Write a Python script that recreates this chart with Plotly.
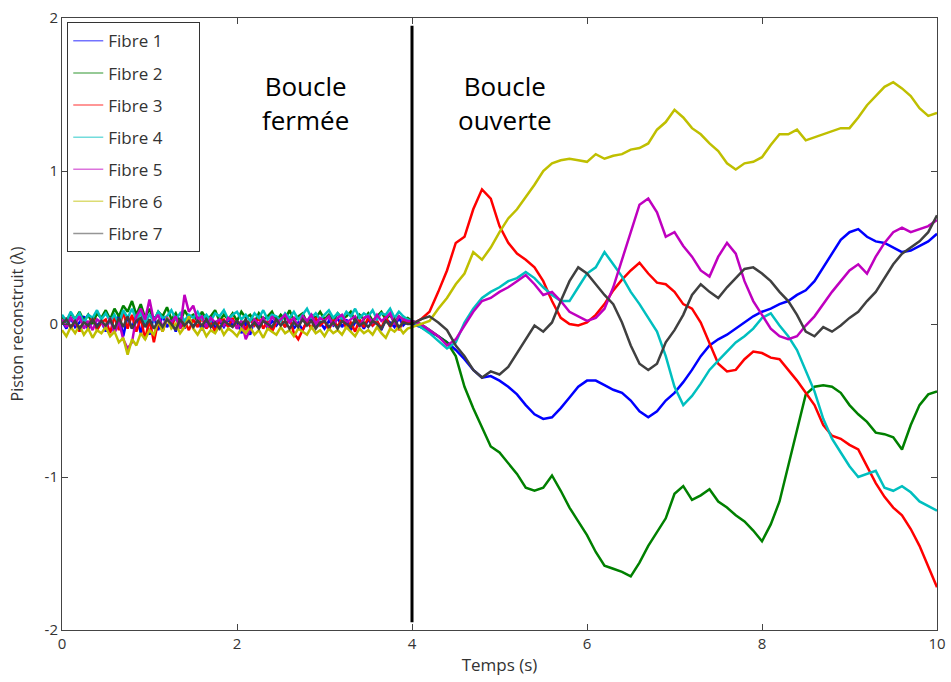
import numpy as np
import plotly.graph_objects as go

# ---------------- data ----------------
# closed loop samples: t = 0.00 ... 3.95 (step 0.05)
t_closed = np.round(np.arange(0, 80) * 0.05, 2)
# open loop samples: t = 4.0 ... 10.0 (step 0.1)
t_open = np.round(4.0 + np.arange(0, 61) * 0.1, 2)

fibre1_closed = [0.02, -0.03, 0.04, -0.02, 0.01, 0.05, -0.04, 0.03, -0.01, 0.02,
                 -0.05, 0.04, -0.06, 0.06, -0.08, 0.05, -0.03, 0.07, -0.06, 0.04,
                 -0.07, 0.05, -0.04, 0.06, -0.02, 0.03, -0.05, 0.04, -0.03, 0.05,
                 -0.02, 0.03, -0.04, 0.02, 0.04, -0.03, 0.02, -0.02, 0.03, -0.01,
                 0.02, -0.06, 0.01, -0.07, 0.03, -0.02, 0.04, -0.03, 0.02, -0.01,
                 0.03, -0.02, 0.04, -0.03, 0.01, -0.04, 0.02, 0.03, -0.02, 0.01,
                 -0.03, 0.02, -0.01, 0.04, -0.02, 0.03, -0.04, 0.01, 0.02, -0.03,
                 0.03, -0.01, 0.02, -0.04, 0.03, 0.01, -0.02, 0.04, -0.01, 0.02]
fibre2_closed = [0.05, 0.01, 0.07, 0.03, 0.08, 0.02, 0.06, 0.0, 0.07, 0.04,
                 0.09, 0.03, 0.1, 0.05, 0.12, 0.08, 0.15, 0.06, 0.13, 0.04,
                 0.1, 0.02, 0.08, 0.05, 0.11, 0.03, 0.07, 0.01, 0.09, 0.04,
                 0.06, 0.02, 0.08, 0.03, 0.05, 0.09, 0.02, 0.06, 0.03, 0.07,
                 0.02, 0.08, 0.04, 0.06, 0.01, 0.07, 0.03, 0.05, 0.08, 0.02,
                 0.06, 0.03, 0.09, 0.02, 0.05, 0.07, 0.01, 0.06, 0.04, 0.08,
                 0.03, 0.06, 0.02, 0.07, 0.04, 0.05, 0.08, 0.02, 0.06, 0.03,
                 0.07, 0.02, 0.05, 0.08, 0.03, 0.06, 0.01, 0.05, 0.03, 0.04]
fibre3_closed = [0.0, 0.04, -0.03, 0.02, -0.05, 0.03, -0.02, 0.05, -0.04, 0.01,
                 0.03, -0.06, 0.05, -0.04, 0.08, -0.03, 0.06, -0.05, 0.04, -0.1,
                 0.03, -0.12, 0.02, -0.05, 0.04, -0.02, 0.05, -0.03, 0.02, -0.04,
                 0.03, -0.02, 0.04, -0.03, 0.01, -0.05, 0.02, 0.03, -0.02, 0.04,
                 -0.03, 0.02, -0.04, 0.03, -0.01, 0.04, -0.03, 0.02, -0.05, 0.01,
                 0.03, -0.02, 0.04, -0.06, -0.1, -0.04, 0.02, -0.03, 0.04, -0.01,
                 0.02, -0.04, 0.03, -0.02, 0.04, -0.03, 0.01, -0.05, 0.03, -0.02,
                 0.04, -0.01, 0.02, -0.03, 0.05, -0.02, 0.03, -0.04, 0.02, 0.01]
fibre4_closed = [0.06, 0.02, 0.08, 0.03, 0.07, 0.01, 0.06, 0.04, 0.09, 0.03,
                 0.07, 0.02, 0.06, 0.0, 0.09, 0.04, 0.1, 0.03, 0.07, 0.01,
                 0.06, 0.02, 0.08, 0.04, 0.05, 0.09, 0.03, 0.07, 0.02, 0.06,
                 0.04, 0.08, 0.03, 0.06, 0.02, 0.07, 0.05, 0.09, 0.03, 0.06,
                 0.08, 0.03, 0.06, 0.02, 0.07, 0.04, 0.09, 0.03, 0.06, 0.05,
                 0.02, 0.07, 0.04, 0.08, 0.03, 0.06, 0.1, 0.04, 0.07, 0.03,
                 0.06, 0.09, 0.04, 0.07, 0.03, 0.08, 0.05, 0.1, 0.04, 0.07,
                 0.05, 0.09, 0.03, 0.07, 0.06, 0.1, 0.04, 0.08, 0.05, 0.03]
fibre5_closed = [0.03, -0.02, 0.04, 0.0, 0.05, -0.03, 0.02, -0.04, 0.03, 0.01,
                 -0.03, 0.04, -0.06, 0.02, -0.1, -0.16, -0.12, 0.05, 0.1, 0.03,
                 0.16, 0.02, 0.06, -0.02, 0.04, 0.01, 0.05, -0.03, 0.19, 0.08,
                 0.12, 0.03, 0.05, -0.02, 0.04, 0.01, 0.03, -0.01, 0.04, 0.02,
                 -0.03, 0.02, -0.1, -0.04, 0.03, 0.0, 0.04, -0.02, 0.05, 0.01,
                 0.03, 0.06, 0.01, 0.04, -0.02, 0.05, 0.02, 0.06, 0.0, 0.04,
                 0.02, 0.05, -0.01, 0.04, 0.06, 0.01, 0.03, 0.05, -0.02, 0.04,
                 0.05, 0.01, 0.06, 0.02, 0.04, 0.07, 0.0, 0.05, 0.03, 0.02]
fibre6_closed = [-0.04, -0.08, -0.02, -0.06, -0.01, -0.07, -0.03, -0.09, -0.04, -0.06,
                 -0.02, -0.08, -0.05, -0.12, -0.09, -0.2, -0.1, -0.14, -0.06, -0.1,
                 -0.04, -0.07, 0.02, -0.05, 0.04, -0.03, 0.0, -0.06, -0.02, 0.05,
                 -0.03, -0.07, -0.02, -0.08, -0.04, -0.06, -0.01, -0.07, -0.03, -0.05,
                 -0.08, -0.03, -0.06, -0.02, -0.07, -0.04, -0.09, -0.03, -0.05, -0.07,
                 -0.02, -0.06, -0.04, -0.08, -0.03, -0.05, -0.07, -0.02, -0.06, -0.04,
                 -0.08, -0.03, -0.06, -0.04, -0.07, -0.02, -0.05, -0.08, -0.03, -0.06,
                 -0.04, -0.07, -0.02, -0.06, -0.09, -0.03, -0.05, -0.02, -0.06, -0.03]
fibre7_closed = [0.0, 0.03, -0.02, 0.02, -0.03, 0.01, -0.01, 0.03, -0.02, 0.02,
                 -0.01, 0.03, -0.03, 0.04, -0.02, 0.05, -0.03, 0.02, 0.04, -0.02,
                 0.03, -0.03, 0.02, -0.02, 0.03, 0.0, -0.04, 0.03, -0.01, 0.02,
                 -0.02, 0.02, -0.01, 0.03, -0.02, 0.01, -0.03, 0.02, 0.0, -0.02,
                 0.02, -0.01, 0.03, -0.02, 0.01, -0.03, 0.02, 0.0, -0.02, 0.03,
                 -0.01, 0.02, -0.03, 0.01, -0.02, 0.03, -0.01, 0.02, -0.03, 0.01,
                 0.02, -0.02, 0.01, -0.03, 0.02, 0.0, -0.02, 0.03, -0.01, 0.01,
                 -0.02, 0.02, 0.0, -0.03, 0.02, -0.01, 0.03, -0.02, 0.01, 0.0]

fibre1_open = [0.0, -0.02, -0.05, -0.08, -0.12, -0.17, -0.23, -0.30, -0.35, -0.34,
               -0.37, -0.41, -0.46, -0.53, -0.59, -0.62, -0.61, -0.55, -0.48, -0.41,
               -0.37, -0.37, -0.40, -0.43, -0.45, -0.50, -0.57, -0.61, -0.57, -0.50,
               -0.45, -0.38, -0.30, -0.21, -0.14, -0.10, -0.07, -0.03, 0.01, 0.05,
               0.08, 0.10, 0.13, 0.15, 0.19, 0.22, 0.28, 0.37, 0.46, 0.55,
               0.60, 0.62, 0.57, 0.54, 0.53, 0.50, 0.47, 0.48, 0.51, 0.54,
               0.59]
fibre2_open = [0.02, 0.0, -0.04, -0.08, -0.12, -0.21, -0.41, -0.55, -0.68, -0.80,
               -0.84, -0.91, -0.98, -1.07, -1.09, -1.07, -0.99, -1.09, -1.20, -1.29,
               -1.38, -1.49, -1.58, -1.60, -1.62, -1.65, -1.56, -1.45, -1.36, -1.27,
               -1.11, -1.06, -1.15, -1.12, -1.08, -1.16, -1.20, -1.25, -1.29, -1.35,
               -1.42, -1.31, -1.16, -0.93, -0.68, -0.46, -0.41, -0.40, -0.41, -0.45,
               -0.53, -0.59, -0.64, -0.71, -0.72, -0.74, -0.82, -0.66, -0.53, -0.46,
               -0.44]
fibre3_open = [0.0, 0.03, 0.08, 0.21, 0.35, 0.53, 0.57, 0.75, 0.88, 0.82,
               0.64, 0.53, 0.46, 0.42, 0.37, 0.28, 0.15, 0.04, 0.0, -0.01,
               0.01, 0.06, 0.13, 0.22, 0.29, 0.35, 0.40, 0.33, 0.27, 0.26,
               0.21, 0.13, 0.10, 0.01, -0.12, -0.26, -0.31, -0.30, -0.23, -0.18,
               -0.19, -0.22, -0.23, -0.30, -0.37, -0.45, -0.53, -0.66, -0.73, -0.75,
               -0.79, -0.82, -0.93, -1.04, -1.13, -1.20, -1.25, -1.34, -1.45, -1.58,
               -1.72]
fibre4_open = [0.02, -0.02, -0.06, -0.11, -0.16, -0.12, 0.01, 0.10, 0.17, 0.21,
               0.24, 0.28, 0.30, 0.34, 0.30, 0.24, 0.19, 0.15, 0.15, 0.24,
               0.33, 0.37, 0.47, 0.39, 0.31, 0.21, 0.13, 0.04, -0.05, -0.21,
               -0.41, -0.53, -0.47, -0.39, -0.30, -0.24, -0.18, -0.12, -0.08, -0.03,
               0.04, 0.07, -0.01, -0.08, -0.17, -0.30, -0.44, -0.62, -0.75, -0.84,
               -0.93, -1.00, -0.98, -0.96, -1.07, -1.09, -1.06, -1.10, -1.16, -1.19,
               -1.22]
fibre5_open = [0.02, 0.0, -0.04, -0.08, -0.14, -0.10, -0.01, 0.08, 0.15, 0.17,
               0.21, 0.24, 0.28, 0.32, 0.26, 0.19, 0.21, 0.15, 0.08, 0.05,
               0.02, 0.04, 0.10, 0.24, 0.42, 0.60, 0.78, 0.82, 0.73, 0.57,
               0.60, 0.51, 0.44, 0.35, 0.31, 0.44, 0.53, 0.46, 0.28, 0.15,
               0.06, -0.03, -0.08, -0.10, -0.08, -0.01, 0.05, 0.13, 0.21, 0.28,
               0.35, 0.39, 0.33, 0.44, 0.53, 0.60, 0.63, 0.60, 0.62, 0.64,
               0.68]
fibre6_open = [-0.02, 0.0, 0.02, 0.10, 0.17, 0.26, 0.33, 0.47, 0.42, 0.50,
               0.60, 0.69, 0.75, 0.83, 0.91, 1.00, 1.05, 1.07, 1.08, 1.07,
               1.06, 1.11, 1.08, 1.10, 1.11, 1.14, 1.15, 1.18, 1.27, 1.32,
               1.40, 1.35, 1.28, 1.24, 1.18, 1.13, 1.05, 1.01, 1.05, 1.06,
               1.09, 1.17, 1.24, 1.24, 1.27, 1.20, 1.22, 1.24, 1.26, 1.28,
               1.28, 1.35, 1.43, 1.49, 1.55, 1.58, 1.54, 1.49, 1.41, 1.36,
               1.38]
fibre7_open = [0.0, 0.03, 0.05, 0.01, -0.04, -0.14, -0.21, -0.30, -0.35, -0.31,
               -0.33, -0.28, -0.19, -0.10, -0.01, -0.05, 0.01, 0.15, 0.28, 0.37,
               0.33, 0.26, 0.19, 0.13, 0.01, -0.14, -0.26, -0.30, -0.26, -0.12,
               -0.04, 0.06, 0.19, 0.26, 0.21, 0.17, 0.24, 0.30, 0.36, 0.37,
               0.33, 0.28, 0.21, 0.15, 0.06, -0.05, -0.08, -0.02, -0.05, -0.01,
               0.04, 0.08, 0.15, 0.21, 0.30, 0.39, 0.46, 0.50, 0.54, 0.60,
               0.71]

fibre_names = ["Fibre 1", "Fibre 2", "Fibre 3", "Fibre 4", "Fibre 5", "Fibre 6", "Fibre 7"]
closed_series = [fibre1_closed, fibre2_closed, fibre3_closed, fibre4_closed,
                 fibre5_closed, fibre6_closed, fibre7_closed]
open_series = [fibre1_open, fibre2_open, fibre3_open, fibre4_open,
               fibre5_open, fibre6_open, fibre7_open]

switch_time = [4.0, 4.0]
switch_extent = [-1.95, 1.95]

x_ticks = [0, 2, 4, 6, 8, 10]
y_ticks = [-2, -1, 0, 1, 2]
y_tick_labels = ["-2", "-1", "0", "1", "2"]

region_labels = ["Boucle<br>fermée", "Boucle<br>ouverte"]
region_label_x = [2.78, 5.06]
region_label_y = [1.445, 1.445]

# ---------------- styles ----------------
colors = ["#0000FF", "#008000", "#FF0000", "#00BFBF", "#BF00BF", "#BFBF00", "#404040"]
FONT = "Open Sans"

fig = go.Figure()
for name, c_vals, o_vals, col in zip(fibre_names, closed_series, open_series, colors):
    t = list(t_closed) + list(t_open)
    y = list(c_vals) + list(o_vals)
    fig.add_trace(go.Scatter(
        x=t, y=y, mode="lines", name=name, legendgroup=name, showlegend=False,
        line=dict(color=col, width=2.5),
    ))
# legend entries (thin, light lines as in the original legend)
for name, col in zip(fibre_names, colors):
    fig.add_trace(go.Scatter(
        x=[None], y=[None], mode="lines", name=name + "\u00a0" * 7, legendgroup=name,
        line=dict(color=col, width=1.5), opacity=0.55,
    ))

fig.add_shape(type="line", xref="x", yref="y",
              x0=switch_time[0], x1=switch_time[1],
              y0=switch_extent[0], y1=switch_extent[1],
              line=dict(color="black", width=3), layer="above")

for txt, ax_, ay_ in zip(region_labels, region_label_x, region_label_y):
    fig.add_annotation(x=ax_, y=ay_, xref="x", yref="y", text=txt, showarrow=False,
                       font=dict(family=FONT, size=26, color="black"),
                       align="center")

axis_common = dict(
    showgrid=False, zeroline=False, showline=True, linecolor="#444444", linewidth=1,
    mirror="ticks", ticks="inside", ticklen=6, tickcolor="#444444",
    tickfont=dict(family=FONT, size=15, color="#333333"), automargin=False,
    ticklabeloverflow="allow",
)

fig.update_layout(
    width=951, height=682,
    margin=dict(l=62, r=14, t=18, b=52, autoexpand=False),
    plot_bgcolor="white", paper_bgcolor="white",
    showlegend=True,
    legend=dict(
        x=0.006, y=0.993, xanchor="left", yanchor="top",
        bgcolor="white", bordercolor="#333333", borderwidth=1,
        font=dict(family=FONT, size=17, color="#333333"),
        tracegroupgap=7, itemwidth=30,
    ),
    xaxis=dict(range=[0, 10], tickvals=x_ticks,
               title=dict(text="Temps (s)", font=dict(family=FONT, size=17, color="#333333"), standoff=7),
               **axis_common),
    yaxis=dict(range=[-2, 2], tickvals=y_ticks, ticktext=y_tick_labels,
               title=dict(text="Piston reconstruit (λ)", font=dict(family=FONT, size=16, color="#333333"), standoff=16),
               **axis_common),
)

# remove the default page margin so the 951x682 figure fills the window exactly
fig.write_html("out.html",
               config={"displayModeBar": False},
               post_script="document.body.style.margin='0';document.body.style.overflow='hidden';")
